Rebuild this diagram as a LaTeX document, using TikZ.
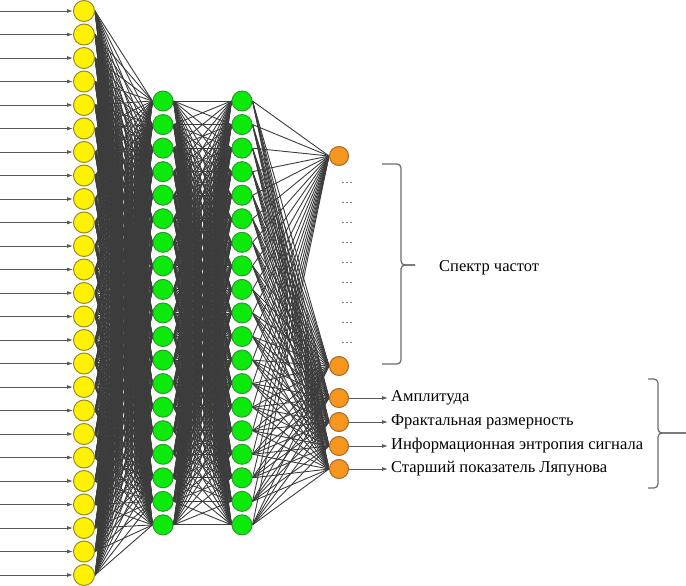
\documentclass[tikz,border=0pt]{standalone}
\usepackage{fontspec}
\setmainfont{Liberation Serif}
\usepackage{tikz}
\usetikzlibrary{positioning, arrows.meta, backgrounds}
\definecolor{wiregray}{HTML}{3C3C3C}
\definecolor{bracegray}{HTML}{6A6A6A}
\definecolor{inyellow}{HTML}{FFF200}
\definecolor{inyellowdark}{HTML}{9A8C1C}
\definecolor{hidgreen}{HTML}{0BEA0B}
\definecolor{hidgreendark}{HTML}{2F9A2F}
\definecolor{outorange}{HTML}{F7961E}
\definecolor{outorangedark}{HTML}{A8662A}
\tikzset{
  inp/.style   = {circle, draw=inyellowdark, fill=inyellow, line width=1pt,
                  minimum size=21pt, inner sep=0pt},
  hid/.style   = {circle, draw=hidgreendark, fill=hidgreen, line width=1pt,
                  minimum size=20pt, inner sep=0pt},
  outn/.style  = {circle, draw=outorangedark, fill=outorange, line width=1pt,
                  minimum size=19pt, inner sep=0pt},
  wire/.style  = {draw=wiregray, line width=0.9pt},
  feed/.style  = {-{Latex[length=6pt,width=4pt]}, draw=wiregray!85, line width=0.9pt},
  brk/.style   = {draw=bracegray, line width=1.2pt, rounded corners=4pt},
  lbl/.style   = {anchor=west, inner sep=3pt, font=\rmfamily\fontsize{16.5}{19}\selectfont},
  skip/.style  = {inner sep=0pt, text=wiregray, font=\rmfamily\fontsize{12}{14}\selectfont},
}
\begin{document}
\begin{tikzpicture}[x=1pt, y=-1pt]
  \useasboundingbox (0,0) rectangle (686,586);

  % input layer
  \foreach \i in {1,...,25} {
    \node[inp] (in\i) at (84, {11+(\i-1)*23.5}) {};
    \coordinate (src\i) at (0, {11+(\i-1)*23.5});
    \draw[feed] (src\i) -- (in\i.west);
  }

  % two hidden layers
  \foreach \i in {1,...,19} {
    \node[hid] (ha\i) at (163, {101+(\i-1)*23.55}) {};
    \node[hid] (hb\i) at (242, {101+(\i-1)*23.55}) {};
  }

  % output layer
  \node[outn] (o1) at (339,156) {};
  \node[outn] (o2) at (339,366) {};
  \node[outn] (o3) at (339,398) {};
  \node[outn] (o4) at (339,422) {};
  \node[outn] (o5) at (339,446) {};
  \node[outn] (o6) at (339,469) {};

  \foreach \k in {0,...,8}
    \node[skip] (gap\k) at (347, {183+\k*20}) {\ldots};

  % connections
  \begin{scope}[on background layer]
    \foreach \i in {1,...,25}
      \foreach \j in {1,...,19}
        \draw[wire] (in\i.east) -- (ha\j.west);
    \foreach \i in {1,...,19}
      \foreach \j in {1,...,19}
        \draw[wire] (ha\i.east) -- (hb\j.west);
    \foreach \i in {1,...,19}
      \foreach \j in {1,...,6}
        \draw[wire] (hb\i.east) -- (o\j.west);
  \end{scope}

  % labels
  \node[lbl] (amp) at (388,398) {Амплитуда};
  \node[lbl] (fract) at (388,422) {Фрактальная размерность};
  \node[lbl] (entr) at (388,446) {Информационная энтропия сигнала};
  \node[lbl] (lyap) at (388,469) {Старший показатель Ляпунова};
  \draw[feed] (o3.east) -- (amp.west);
  \draw[feed] (o4.east) -- (fract.west);
  \draw[feed] (o5.east) -- (entr.west);
  \draw[feed] (o6.east) -- (lyap.west);

  \node[lbl] (spec) at (436,268) {Спектр частот};

  % braces
  \draw[brk] (382,164) -| (401,265) -- (415,265);
  \draw[brk] (415,265) -- (401,265) |- (382,364);
  \draw[brk] (648,379) -| (658,433) -- (686,433);
  \draw[brk] (686,433) -- (658,433) |- (648,488);

\end{tikzpicture}
\end{document}
